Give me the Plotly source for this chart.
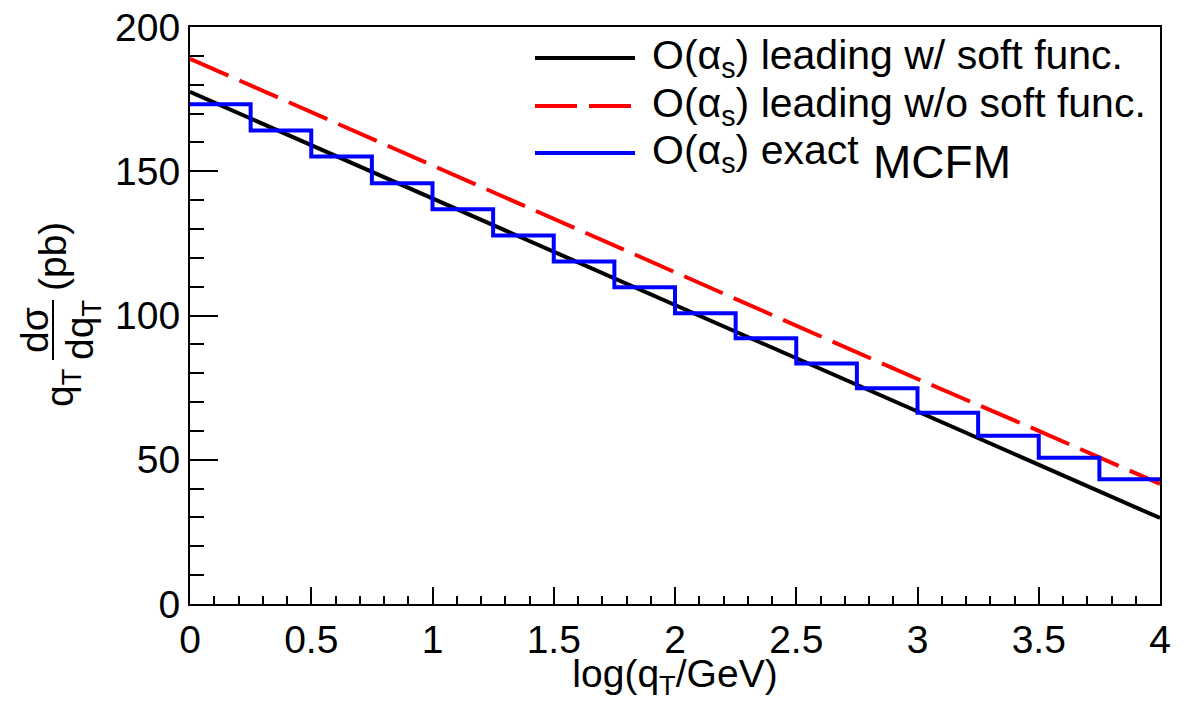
import plotly.graph_objects as go

# ---------------- data ----------------
x_curve = [0, 0.5, 1, 1.5, 2, 2.5, 3, 3.5, 4]
lead_soft = [177.5, 159.0, 140.5, 122.0, 103.5, 85.0, 66.7, 48.2, 29.8]
lead_nosoft = [189.0, 170.5, 152.0, 133.5, 115.0, 96.5, 78.0, 60.0, 41.6]

bin_edges = [0, 0.25, 0.5, 0.75, 1.0, 1.25, 1.5, 1.75, 2.0, 2.25, 2.5, 2.75,
             3.0, 3.25, 3.5, 3.75, 4.0]
mcfm_vals = [173.2, 164.1, 155.1, 145.8, 136.8, 127.7, 118.7, 109.8, 100.8,
             92.1, 83.4, 74.8, 66.3, 58.3, 50.7, 43.2]

legend_labels = ["O(α<sub>s</sub>) leading w/ soft func.",
                 "O(α<sub>s</sub>) leading w/o soft func.",
                 "O(α<sub>s</sub>) exact"]

# ---------------- layout geometry (reference pixel frame) ----------------
W, H = 1191, 701
L, R, T, B = 190, 1160, 27, 604
FONT = "Liberation Sans, Arial, Helvetica, sans-serif"


def px(x):
    return (x - L) / (R - L)


def py(y):
    return (B - y) / (B - T)


fig = go.Figure()

fig.add_trace(go.Scatter(x=x_curve, y=lead_soft, mode="lines",
                         line=dict(color="black", width=4),
                         name=legend_labels[0], showlegend=False))
fig.add_trace(go.Scatter(x=x_curve, y=lead_nosoft, mode="lines",
                         line=dict(color="#ff0000", width=4, dash="42px,12px"),
                         name=legend_labels[1], showlegend=False))
fig.add_trace(go.Scatter(x=bin_edges, y=mcfm_vals + [mcfm_vals[-1]], mode="lines",
                         line=dict(color="#0000ff", width=4, shape="hv"),
                         name=legend_labels[2], showlegend=False))

# ---------------- manual legend ----------------
rows_y = [58, 106, 153]
styles = [dict(color="black", width=4),
          dict(color="#ff0000", width=4, dash="42px,12px"),
          dict(color="#0000ff", width=4)]
shapes = []
annotations = []
for lab, yy, st in zip(legend_labels, rows_y, styles):
    shapes.append(dict(type="line", xref="paper", yref="paper",
                       x0=px(535), x1=px(635), y0=py(yy), y1=py(yy), line=st))
    annotations.append(dict(text=lab, xref="paper", yref="paper", x=px(650), y=py(yy),
                            xanchor="left", yanchor="middle", showarrow=False,
                            font=dict(family=FONT, size=41, color="black")))
annotations.append(dict(text="MCFM", xref="paper", yref="paper", x=px(871), y=py(162),
                        xanchor="left", yanchor="middle", showarrow=False,
                        font=dict(family=FONT, size=46, color="black")))

# ---------------- y-axis title with a fraction ----------------
yt_font = dict(family=FONT, size=39, color="black")
annotations += [
    dict(text="q<sub>T</sub>", xref="paper", yref="paper", x=px(62), y=py(388),
         xanchor="center", yanchor="middle", textangle=-90, showarrow=False, font=yt_font),
    dict(text="dσ", xref="paper", yref="paper", x=px(34), y=py(330),
         xanchor="center", yanchor="middle", textangle=-90, showarrow=False, font=yt_font),
    dict(text="dq<sub>T</sub>", xref="paper", yref="paper", x=px(82), y=py(330),
         xanchor="center", yanchor="middle", textangle=-90, showarrow=False, font=yt_font),
    dict(text="(pb)", xref="paper", yref="paper", x=px(52), y=py(257),
         xanchor="center", yanchor="middle", textangle=-90, showarrow=False, font=yt_font),
]
shapes.append(dict(type="line", xref="paper", yref="paper",
                   x0=px(53), x1=px(53), y0=py(300), y1=py(360),
                   line=dict(color="black", width=2)))

fig.update_layout(
    width=W, height=H,
    margin=dict(l=L, r=W - R, t=T, b=H - B),
    plot_bgcolor="white", paper_bgcolor="white",
    shapes=shapes, annotations=annotations,
    showlegend=False,
    font=dict(family=FONT, color="black"),
)

fig.update_xaxes(
    range=[0, 4], dtick=0.5, tick0=0, showgrid=False, zeroline=False,
    showline=True, linecolor="black", linewidth=2, mirror=True,
    ticks="inside", ticklen=17, tickwidth=1.5, tickcolor="black",
    minor=dict(ticks="inside", ticklen=8, dtick=0.1, tick0=0, tickwidth=1.5,
               tickcolor="black", showgrid=False),
    tickfont=dict(family=FONT, size=39, color="black"),
    ticklabeloverflow="allow",
    title=dict(text="log(q<sub>T</sub>/GeV)", font=dict(family=FONT, size=39, color="black"),
               standoff=0),
    automargin=False,
)
fig.update_yaxes(
    range=[0, 200], dtick=50, tick0=0, showgrid=False, zeroline=False,
    showline=True, linecolor="black", linewidth=2, mirror=True,
    ticks="inside", ticklen=28, tickwidth=1.5, tickcolor="black",
    minor=dict(ticks="inside", ticklen=14, dtick=10, tick0=0, tickwidth=1.5,
               tickcolor="black", showgrid=False),
    tickfont=dict(family=FONT, size=39, color="black"),
    ticklabeloverflow="allow",
    automargin=False,
)

fig.write_html("out.html", config={"displayModeBar": False},
               post_script="document.body.style.margin='0';document.body.style.overflow='hidden';")
